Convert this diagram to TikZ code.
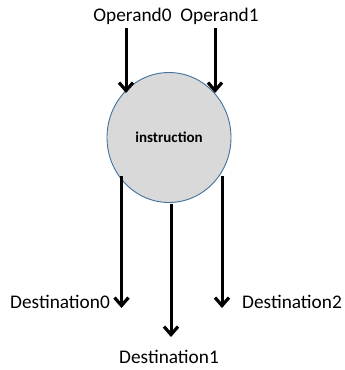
\documentclass[tikz,border=0pt]{standalone}
\usepackage{fontspec}
\setmainfont{Carlito}
\usetikzlibrary{arrows.meta,shapes.geometric}
\definecolor{nodefill}{HTML}{D9D9D9}
\definecolor{nodeedge}{HTML}{41719C}
\begin{document}
\begin{tikzpicture}[x=1pt,y=-1pt,
  lbl/.style={font=\fontsize{19.3}{23}\selectfont, inner sep=0pt, anchor=base},
  flow/.style={line width=3pt, -{Straight Barb[length=8pt,width=14pt,line width=3.2pt]}},
  instr/.style={ellipse, draw=nodeedge, line width=0.9pt, fill=nodefill,
    minimum width=124pt, minimum height=130pt, inner sep=0pt,
    font=\fontsize{15}{18}\selectfont\bfseries}]
  \useasboundingbox (0,0) rectangle (345,370);

  % instruction node
  \node[instr] (ins) at (169,137.5) {instruction};

  % labels
  \node[lbl] (o0) at (132.5,21) {Operand0};
  \node[lbl] (o1) at (219.5,21) {Operand1};
  \node[lbl] (d0) at (60,308) {Destination0};
  \node[lbl] (d2) at (292,308) {Destination2};
  \node[lbl] (d1) at (169,363) {Destination1};

  % connector end points
  \coordinate (in0s) at (126,28);
  \coordinate (in0e) at (126,93);
  \coordinate (in1s) at (215,28);
  \coordinate (in1e) at (215,93);
  \coordinate (out0s) at (121.5,176);
  \coordinate (out0e) at (121.5,308);
  \coordinate (out1s) at (171,204);
  \coordinate (out1e) at (171,337);
  \coordinate (out2s) at (222,176);
  \coordinate (out2e) at (222,308);

  % inputs
  \draw[flow] (in0s) -- (in0e);
  \draw[flow] (in1s) -- (in1e);
  % outputs
  \draw[flow] (out0s) -- (out0e);
  \draw[flow] (out1s) -- (out1e);
  \draw[flow] (out2s) -- (out2e);
\end{tikzpicture}
\end{document}
